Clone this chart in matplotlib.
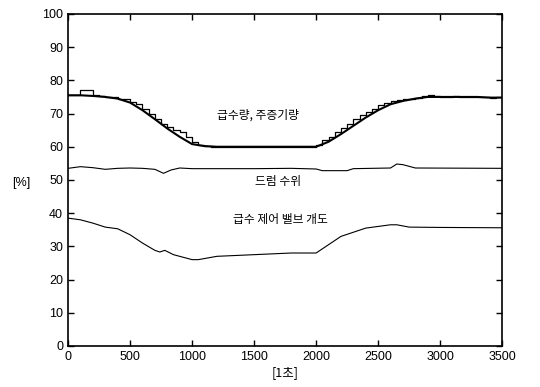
import numpy as np
import matplotlib.pyplot as plt

plt.rcParams['font.family'] = ['Liberation Sans', 'Noto Sans CJK KR', 'DejaVu Sans']

# main steam flow, every 100 s
t = np.arange(0, 3600, 100)
steam = [75.5, 75.5, 75.3, 75.0, 74.5, 73.3, 71.0, 68.3, 65.5, 63.0, 60.8, 60.2,
         60.0, 60.0, 60.0, 60.0, 60.0, 60.0, 60.0, 60.0, 60.0, 61.5, 63.8, 66.3,
         68.8, 71.0, 72.8, 73.8, 74.5, 75.0, 75.0, 75.0, 75.0, 75.0, 74.8, 74.8]

# feed water flow (step), every 50 s
t_feed = np.arange(0, 3550, 50)
feed = [75.5, 75.5, 77.0, 77.0, 75.5, 75.3, 75.0, 75.0, 74.5, 74.3, 73.5, 72.8,
        71.5, 70.0, 68.5, 67.0, 66.0, 65.0, 64.5, 63.0, 61.5, 60.5, 60.3, 60.0,
        60.0, 60.0, 60.0, 60.0, 60.0, 60.0, 60.0, 60.0, 60.0, 60.0, 60.0, 60.0,
        60.0, 60.0, 60.0, 60.0, 60.5, 62.0, 63.0, 64.3, 65.5, 67.0, 68.3, 69.5,
        70.5, 71.5, 72.5, 73.3, 73.8, 74.2, 74.4, 74.5, 74.8, 75.2, 75.5, 75.3,
        75.0, 75.0, 75.3, 75.0, 75.0, 75.0, 75.0, 75.0, 74.8, 75.0, 74.8]

# drum level
t_drum = [0, 100, 200, 300, 400, 500, 600, 700, 770, 830, 900, 1000, 1200, 1500,
          1800, 2000, 2050, 2250, 2300, 2600, 2650, 2700, 2800, 3500]
drum = [53.5, 54.0, 53.7, 53.2, 53.5, 53.6, 53.5, 53.2, 52.0, 53.0, 53.6, 53.4,
        53.4, 53.4, 53.5, 53.3, 52.8, 52.8, 53.4, 53.6, 54.8, 54.6, 53.6, 53.5]

# feed water control valve opening
t_valve = [0, 100, 200, 300, 400, 500, 600, 700, 740, 780, 850, 1000, 1050, 1200,
           1500, 1800, 2000, 2100, 2200, 2400, 2600, 2650, 2750, 3000, 3500]
valve = [38.5, 38.0, 37.0, 35.8, 35.3, 33.5, 31.0, 28.8, 28.3, 28.8, 27.5, 26.0,
         26.0, 27.0, 27.5, 28.0, 28.0, 30.5, 33.0, 35.5, 36.5, 36.5, 35.8, 35.7, 35.6]

fig = plt.figure(figsize=(5.4, 3.87), dpi=100)
ax = fig.add_axes([0.126, 0.106, 0.804, 0.858])

ax.step(t_feed, feed, where='post', color='black', lw=0.9)
ax.plot(t, steam, color='black', lw=1.5)
ax.plot(t_drum, drum, color='black', lw=0.8)
ax.plot(t_valve, valve, color='black', lw=0.8)

kw = dict(family=['Noto Sans CJK KR', 'DejaVu Sans'], fontsize=8.5, ha='center', va='center')
ax.text(1530, 69.5, '급수량, 주증기량', **kw)
ax.text(1690, 49.4, '드럼 수위', **kw)
ax.text(1710, 38.2, '급수 제어 밸브 개도', **kw)

ax.set_xlim(0, 3500)
ax.set_ylim(0, 100)
ax.set_xticks(np.arange(0, 3501, 500))
ax.set_yticks(np.arange(0, 101, 10))
ax.tick_params(direction='in', top=True, right=True, labelsize=9, length=4, width=1)
for s in ax.spines.values():
    s.set_linewidth(1.2)

ax.set_xlabel('[1초]', family=['Noto Sans CJK KR', 'DejaVu Sans'], fontsize=9, labelpad=2)
fig.text(0.04, 0.527, '[%]', fontsize=9, ha='center', va='center')

fig.savefig('out.png', dpi=100)
